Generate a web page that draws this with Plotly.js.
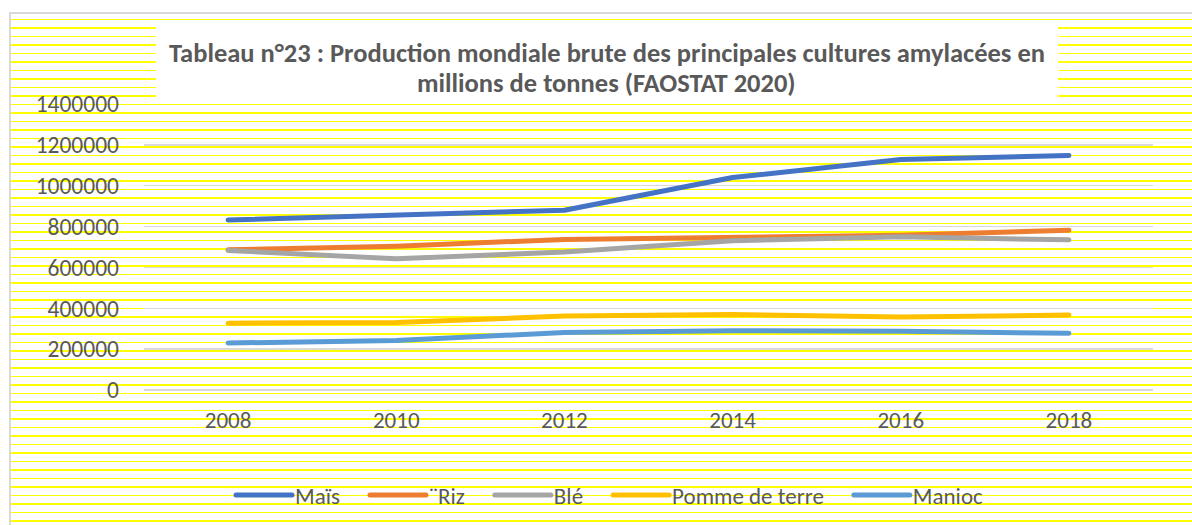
<!DOCTYPE html>
<html>
<head>
<meta charset="utf-8">
<script src="https://cdn.plot.ly/plotly-3.0.1.min.js"></script>
<style>
  html, body { margin: 0; padding: 0; background: #ffffff; overflow: hidden; }
  #frame {
    position: absolute; left: 0; top: 0; width: 1192px; height: 525px;
    background: #ffffff;
  }
  #stripes {
    position: absolute; left: 11px; top: 14px; right: 0; bottom: 0;
    background-image: repeating-linear-gradient(to bottom,
      #ffffff 0px, #ffffff 4.9px,
      #ffff00 4.9px, #ffff00 6.1px,
      #ffffff 6.1px, #ffffff 12.8px,
      #ffff00 12.8px, #ffff00 15.2px,
      #ffffff 15.2px, #ffffff 17px);
    background-position: 0 0;
  }
  #borderTop { position: absolute; left: 9px; top: 12px; right: 0; height: 2px; background: #d9d9d9; }
  #borderLeft { position: absolute; left: 9px; top: 12px; width: 2px; bottom: 0; background: #d9d9d9; }
  #chart { position: absolute; left: 0; top: 0; width: 1192px; height: 525px; }
  #chart .js-line { stroke-linecap: round; stroke-linejoin: round; }
  #chart .legendlines path { stroke-linecap: round; d: path('M25,0h56'); }
</style>
</head>
<body>
<div id="frame">
  <div id="stripes"></div>
  <div id="borderTop"></div>
  <div id="borderLeft"></div>
  <div id="chart"></div>
</div>
<script>
// ---- Data ----
const years = ['2008', '2010', '2012', '2014', '2016', '2018'];
const mais = [832000, 853000, 880000, 1040000, 1128000, 1148000];
const riz = [686000, 704000, 737000, 746000, 758000, 782000];
const ble = [683000, 642000, 676000, 731000, 750000, 735000];
const pommeDeTerre = [327000, 330000, 362000, 370000, 357000, 367000];
const manioc = [230000, 242000, 282000, 290000, 287000, 278000];
const seriesNames = ['Maïs', '¨Riz', 'Blé', 'Pomme de terre', 'Manioc'];
const yTicks = [0, 200000, 400000, 600000, 800000, 1000000, 1200000, 1400000];
const titleLines = [
  'Tableau n°23 : Production mondiale brute des principales cultures amylacées en',
  'millions de tonnes (FAOSTAT 2020)'
];

const colors = ['#4472C4', '#ED7D31', '#A5A5A5', '#FFC000', '#5B9BD5'];
const allSeries = [mais, riz, ble, pommeDeTerre, manioc];

const FONT = 'Carlito, Lato, "Open Sans", sans-serif';
const TXT = '#595959';

const traces = allSeries.map((vals, i) => ({
  type: 'scatter',
  mode: 'lines',
  x: years,
  y: vals,
  name: seriesNames[i],
  line: { color: colors[i], width: 5 },
  hoverinfo: 'skip'
}));

const W = 1192, H = 525;
const ml = 144, mr = W - 1153, mt = 104, mb = H - 390;
const pw = W - ml - mr, ph = H - mt - mb;
const px2x = p => (p - ml) / pw;
const py2y = p => (H - mb - p) / ph;

const titleY = [53, 83];

const layout = {
  width: W, height: H,
  margin: { l: ml, r: mr, t: mt, b: mb, pad: 0, autoexpand: false },
  paper_bgcolor: 'rgba(0,0,0,0)',
  plot_bgcolor: 'rgba(0,0,0,0)',
  font: { family: FONT, color: TXT, size: 23 },
  annotations: titleLines.map((t, i) => ({
    text: '<b>' + t + '</b>',
    xref: 'paper', yref: 'paper',
    x: px2x(606.5), xanchor: 'center',
    y: py2y(titleY[i]), yanchor: 'middle',
    showarrow: false,
    font: { family: FONT, color: TXT, size: 26.5 }
  })),
  shapes: [{
    type: 'rect', xref: 'paper', yref: 'paper', layer: 'below',
    x0: px2x(156), x1: px2x(1058), y0: py2y(103), y1: py2y(27),
    fillcolor: '#ffffff', line: { width: 0 }
  }],
  xaxis: {
    type: 'category',
    range: [-0.5, years.length - 0.5],
    showgrid: false, zeroline: false, showline: false,
    ticks: '',
    ticklabelstandoff: 14,
    tickfont: { family: FONT, color: TXT, size: 23 },
    automargin: false,
    fixedrange: true
  },
  yaxis: {
    range: [0, 1400000],
    tickvals: yTicks,
    tickformat: 'd',
    showgrid: true, gridcolor: '#d9d9d9', gridwidth: 1.5,
    zeroline: true, zerolinecolor: '#d9d9d9', zerolinewidth: 1.5,
    showline: false, ticks: '',
    ticklabelstandoff: 24,
    tickfont: { family: FONT, color: TXT, size: 23.5 },
    automargin: false,
    fixedrange: true
  },
  showlegend: true,
  legend: {
    orientation: 'h',
    xref: 'container', yref: 'container',
    x: 600 / W, xanchor: 'center',
    y: 1 - 495 / H, yanchor: 'middle',
    bgcolor: 'rgba(0,0,0,0)',
    font: { family: FONT, color: TXT, size: 23 },
    itemwidth: 74,
    traceorder: 'normal'
  }
};

Plotly.newPlot('chart', traces, layout, { staticPlot: true, displayModeBar: false });
</script>
</body>
</html>
